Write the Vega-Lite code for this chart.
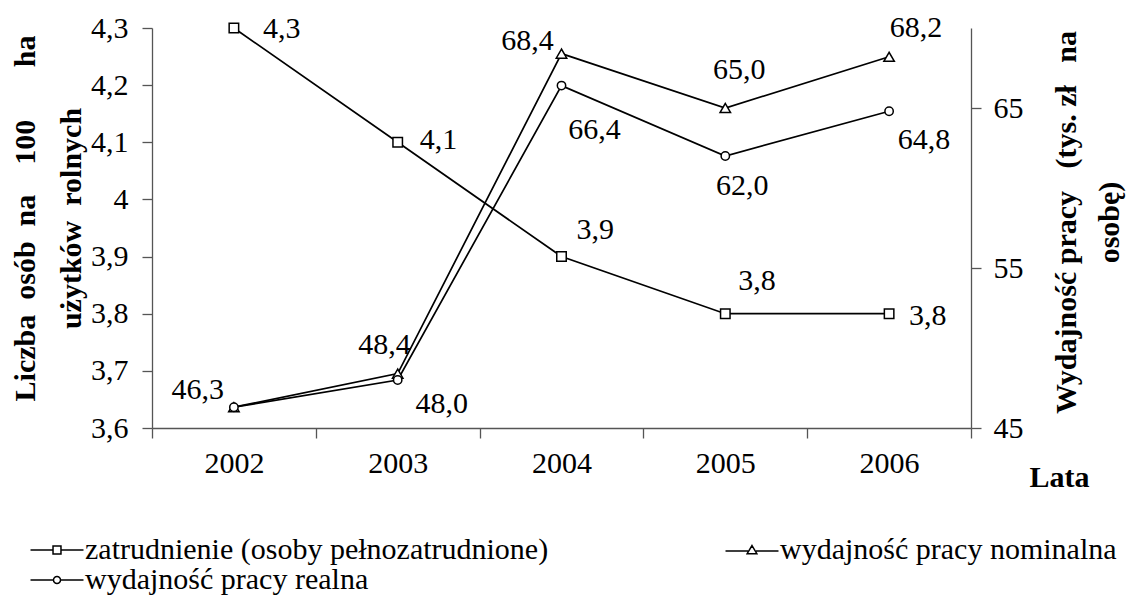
{
  "$schema": "https://vega.github.io/schema/vega-lite/v6.json",
  "width": 819,
  "height": 400,
  "autosize": {"type": "none"},
  "padding": {"left": 152, "top": 28, "right": 155, "bottom": 173},
  "background": "white",
  "config": {
    "locale": {"number": {"decimal": ",", "thousands": " ", "grouping": [3], "currency": ["", " zł"]}},
    "view": {"stroke": null},
    "font": "Liberation Serif",
    "axis": {
      "labelFont": "Liberation Serif", "labelFontSize": 30, "labelColor": "black",
      "titleFont": "Liberation Serif", "titleFontSize": 30, "titleFontWeight": "bold", "titleColor": "black",
      "domainColor": "#555", "tickColor": "#555", "tickSize": 10, "grid": false, "domainWidth": 1.3, "tickWidth": 1.3
    },
    "text": {"font": "Liberation Serif", "fontSize": 30, "color": "black"}
  },
  "datasets": {
    "dane": [
      {"rok": "2002", "seria": "zatrudnienie (osoby pełnozatrudnione)", "wartosc": 4.3},
      {"rok": "2003", "seria": "zatrudnienie (osoby pełnozatrudnione)", "wartosc": 4.1},
      {"rok": "2004", "seria": "zatrudnienie (osoby pełnozatrudnione)", "wartosc": 3.9},
      {"rok": "2005", "seria": "zatrudnienie (osoby pełnozatrudnione)", "wartosc": 3.8},
      {"rok": "2006", "seria": "zatrudnienie (osoby pełnozatrudnione)", "wartosc": 3.8},
      {"rok": "2002", "seria": "wydajność pracy nominalna", "wartosc": 46.3},
      {"rok": "2003", "seria": "wydajność pracy nominalna", "wartosc": 48.4},
      {"rok": "2004", "seria": "wydajność pracy nominalna", "wartosc": 68.4},
      {"rok": "2005", "seria": "wydajność pracy nominalna", "wartosc": 65.0},
      {"rok": "2006", "seria": "wydajność pracy nominalna", "wartosc": 68.2},
      {"rok": "2002", "seria": "wydajność pracy realna", "wartosc": 46.3},
      {"rok": "2003", "seria": "wydajność pracy realna", "wartosc": 48.0},
      {"rok": "2004", "seria": "wydajność pracy realna", "wartosc": 66.4},
      {"rok": "2005", "seria": "wydajność pracy realna", "wartosc": 62.0},
      {"rok": "2006", "seria": "wydajność pracy realna", "wartosc": 64.8}
    ]
  },
  "data": {"name": "dane"},
  "encoding": {
    "x": {
      "field": "rok", "type": "ordinal", "bandPosition": 0.5,
      "scale": {"type": "band", "paddingInner": 0, "paddingOuter": 0},
      "axis": {
        "tickBand": "extent", "labelAngle": 0, "labelPadding": 10,
        "title": "Lata", "titleAnchor": null, "titleX": 937, "titleY": 58,
        "titleAlign": "right", "titleBaseline": "alphabetic"
      }
    }
  },
  "layer": [
    {
      "transform": [{"filter": "datum.seria === 'zatrudnienie (osoby pełnozatrudnione)'"}],
      "encoding": {
        "y": {
          "field": "wartosc", "type": "quantitative",
          "scale": {"domain": [3.6, 4.3], "nice": false, "zero": false},
          "axis": {
            "orient": "left", "values": [3.6, 3.7, 3.8, 3.9, 4.0, 4.1, 4.2, 4.3], "format": ".2~f",
            "labelPadding": 14,
            "title": ["Liczba\u00a0\u00a0osób\u00a0\u00a0na\u00a0\u00a0\u00a0\u00a0100\u00a0\u00a0\u00a0\u00a0\u00a0\u00a0\u00a0ha", "użytków\u00a0\u00a0rolnych"],
            "titleAngle": -90, "titleX": -127, "titleY": 190, "titleAlign": "center", "titleBaseline": "middle",
            "titleLineHeight": 46
          }
        }
      },
      "layer": [
        {"mark": {"type": "line", "color": "black", "strokeWidth": 1.7}},
        {"mark": {"type": "point", "shape": "square", "filled": true, "fill": "white", "stroke": "black", "strokeWidth": 1.5, "size": 90, "opacity": 1}},
        {"transform": [{"filter": "datum.rok === '2002'"}], "mark": {"type": "text", "align": "left", "baseline": "middle", "dx": 29, "dy": 1}, "encoding": {"text": {"field": "wartosc", "type": "quantitative", "format": ".1f"}}},
        {"transform": [{"filter": "datum.rok === '2003'"}], "mark": {"type": "text", "align": "left", "baseline": "middle", "dx": 22, "dy": -2}, "encoding": {"text": {"field": "wartosc", "type": "quantitative", "format": ".1f"}}},
        {"transform": [{"filter": "datum.rok === '2004'"}], "mark": {"type": "text", "align": "left", "baseline": "middle", "dx": 15, "dy": -27}, "encoding": {"text": {"field": "wartosc", "type": "quantitative", "format": ".1f"}}},
        {"transform": [{"filter": "datum.rok === '2005'"}], "mark": {"type": "text", "align": "left", "baseline": "middle", "dx": 13, "dy": -33}, "encoding": {"text": {"field": "wartosc", "type": "quantitative", "format": ".1f"}}},
        {"transform": [{"filter": "datum.rok === '2006'"}], "mark": {"type": "text", "align": "left", "baseline": "middle", "dx": 20, "dy": 2}, "encoding": {"text": {"field": "wartosc", "type": "quantitative", "format": ".1f"}}}
      ]
    },
    {
      "transform": [{"filter": "datum.seria !== 'zatrudnienie (osoby pełnozatrudnione)'"}],
      "encoding": {
        "y": {
          "field": "wartosc", "type": "quantitative",
          "scale": {"domain": [45, 70], "nice": false, "zero": false},
          "axis": {
            "orient": "right", "values": [45, 55, 65], "format": "d",
            "labelPadding": 12,
            "title": ["Wydajność\u00a0pracy\u00a0\u00a0\u00a0(tys.\u00a0zł\u00a0\u00a0\u00a0na", "osobę)"],
            "titleAngle": -90, "titleX": 95, "titleY": 194, "titleAlign": "center", "titleBaseline": "middle",
            "titleLineHeight": 43
          }
        }
      },
      "layer": [
        {"mark": {"type": "line", "color": "black", "strokeWidth": 1.7}, "encoding": {"detail": {"field": "seria", "type": "nominal"}}},
        {"transform": [{"filter": "datum.seria === 'wydajność pracy nominalna'"}], "mark": {"type": "point", "shape": "triangle-up", "filled": true, "fill": "white", "stroke": "black", "strokeWidth": 1.5, "size": 110, "opacity": 1}},
        {"transform": [{"filter": "datum.seria === 'wydajność pracy realna'"}], "mark": {"type": "point", "shape": "circle", "filled": true, "fill": "white", "stroke": "black", "strokeWidth": 1.5, "size": 70, "opacity": 1}},
        {
          "mark": {"type": "point", "opacity": 0, "size": 312, "color": "black"},
          "encoding": {
            "shape": {
              "field": "seria", "type": "nominal",
              "scale": {
                "domain": ["zatrudnienie (osoby pełnozatrudnione)", "wydajność pracy nominalna", "wydajność pracy realna"],
                "range": [
                  "M-3,0H-0.45M0.45,0H3M-0.45,-0.45H0.45V0.45H-0.45Z",
                  "M-3,0.1H-0.45M0.45,0.1H3M0,-0.5L0.55,0.42H-0.55Z",
                  "M-3,0H-0.4M0.4,0H3M0.4,0A0.4,0.4,0,1,1,-0.4,0A0.4,0.4,0,1,1,0.4,0Z"
                ]
              },
              "legend": {
                "orient": "none", "legendX": -127, "legendY": 507, "direction": "horizontal", "columns": 2,
                "title": null, "padding": 0,
                "labelFont": "Liberation Serif", "labelFontSize": 30, "labelColor": "black", "labelLimit": 0,
                "symbolSize": 312, "symbolOffset": 17, "labelOffset": 13, "columnPadding": 171, "rowPadding": -2,
                "symbolStrokeWidth": 1.5, "symbolStrokeColor": "black", "symbolFillColor": "white", "symbolOpacity": 1,
                "encode": {"symbols": {"update": {"opacity": {"value": 1}, "fill": {"value": "white"}, "stroke": {"value": "black"}, "strokeWidth": {"value": 1.5}}}}
              }
            }
          }
        },
        {"transform": [{"filter": "datum.seria === 'wydajność pracy nominalna' && datum.rok === '2002'"}], "mark": {"type": "text", "align": "right", "baseline": "middle", "dx": -10, "dy": -17}, "encoding": {"text": {"field": "wartosc", "type": "quantitative", "format": ".1f"}}},
        {"transform": [{"filter": "datum.seria === 'wydajność pracy nominalna' && datum.rok === '2003'"}], "mark": {"type": "text", "align": "right", "baseline": "middle", "dx": 13, "dy": -29}, "encoding": {"text": {"field": "wartosc", "type": "quantitative", "format": ".1f"}}},
        {"transform": [{"filter": "datum.seria === 'wydajność pracy nominalna' && datum.rok === '2004'"}], "mark": {"type": "text", "align": "center", "baseline": "middle", "dx": -34, "dy": -13}, "encoding": {"text": {"field": "wartosc", "type": "quantitative", "format": ".1f"}}},
        {"transform": [{"filter": "datum.seria === 'wydajność pracy nominalna' && datum.rok === '2005'"}], "mark": {"type": "text", "align": "center", "baseline": "middle", "dx": 14, "dy": -38}, "encoding": {"text": {"field": "wartosc", "type": "quantitative", "format": ".1f"}}},
        {"transform": [{"filter": "datum.seria === 'wydajność pracy nominalna' && datum.rok === '2006'"}], "mark": {"type": "text", "align": "center", "baseline": "middle", "dx": 27, "dy": -29}, "encoding": {"text": {"field": "wartosc", "type": "quantitative", "format": ".1f"}}},
        {"transform": [{"filter": "datum.seria === 'wydajność pracy realna' && datum.rok === '2003'"}], "mark": {"type": "text", "align": "center", "baseline": "middle", "dx": 44, "dy": 24}, "encoding": {"text": {"field": "wartosc", "type": "quantitative", "format": ".1f"}}},
        {"transform": [{"filter": "datum.seria === 'wydajność pracy realna' && datum.rok === '2004'"}], "mark": {"type": "text", "align": "center", "baseline": "middle", "dx": 33, "dy": 44}, "encoding": {"text": {"field": "wartosc", "type": "quantitative", "format": ".1f"}}},
        {"transform": [{"filter": "datum.seria === 'wydajność pracy realna' && datum.rok === '2005'"}], "mark": {"type": "text", "align": "center", "baseline": "middle", "dx": 17, "dy": 30}, "encoding": {"text": {"field": "wartosc", "type": "quantitative", "format": ".1f"}}},
        {"transform": [{"filter": "datum.seria === 'wydajność pracy realna' && datum.rok === '2006'"}], "mark": {"type": "text", "align": "center", "baseline": "middle", "dx": 35, "dy": 29}, "encoding": {"text": {"field": "wartosc", "type": "quantitative", "format": ".1f"}}}
      ]
    }
  ],
  "resolve": {"scale": {"y": "independent"}}
}
